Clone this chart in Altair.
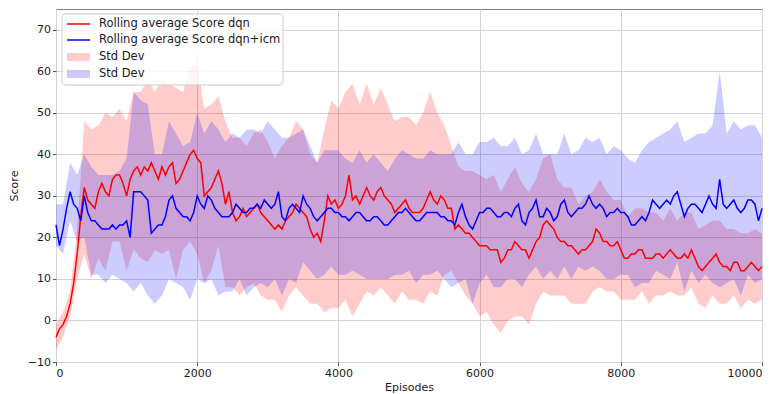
import altair as alt
import pandas as pd

# Rolling-average lines, every 50 episodes
line_episodes = list(range(0, 10001, 50))

mean_dqn = [
    -4, -2, -1, 1, 4, 9, 16, 25, 32, 29,
    28, 27, 31, 33, 31, 30, 34, 35, 35, 33,
    30, 34, 36, 37, 35, 37, 36, 38, 36, 34,
    37, 35, 37, 38, 33, 34, 36, 38, 40, 41,
    39, 38, 30, 31, 32, 34, 36, 33, 28, 31,
    26, 24, 25, 27, 25, 26, 27, 28, 26, 25,
    24, 23, 22, 23, 22, 24, 25, 26, 28, 27,
    26, 25, 22, 20, 21, 19, 24, 30, 28, 29,
    27, 28, 30, 35, 29, 30, 28, 30, 32, 30,
    29, 31, 32, 30, 29, 28, 26, 27, 28, 29,
    27, 26, 26, 26, 27, 29, 31, 29, 28, 30,
    29, 27, 27, 22, 23, 22, 21, 21, 20, 19,
    18, 18, 18, 17, 17, 17, 14, 15, 17, 17,
    19, 18, 17, 17, 15, 17, 19, 20, 23, 24,
    23, 22, 20, 19, 19, 18, 18, 17, 16, 17,
    17, 18, 19, 22, 21, 19, 19, 18, 18, 19,
    17, 15, 15, 16, 16, 17, 17, 15, 15, 15,
    16, 16, 15, 16, 17, 16, 15, 15, 16, 15,
    17, 15, 13, 12, 13, 14, 15, 16, 14, 13,
    13, 12, 14, 14, 12, 12, 13, 14, 13, 12,
    13]

mean_icm = [
    23, 18, 22, 27, 31, 28, 27, 24, 30, 26,
    24, 24, 23, 22, 22, 22, 23, 22, 23, 23,
    24, 20, 31, 31, 31, 30, 29, 21, 22, 23,
    23, 25, 29, 30, 27, 26, 25, 25, 24, 26,
    30, 28, 27, 30, 29, 27, 26, 25, 25, 25,
    26, 28, 27, 26, 26, 27, 27, 28, 27, 29,
    28, 27, 28, 31, 25, 24, 27, 28, 27, 26,
    30, 28, 27, 25, 24, 25, 26, 27, 27, 26,
    26, 25, 25, 24, 25, 26, 26, 25, 24, 24,
    25, 25, 24, 23, 23, 24, 25, 26, 26, 27,
    26, 25, 24, 24, 25, 26, 26, 26, 26, 25,
    25, 24, 24, 23, 26, 28, 25, 23, 22, 24,
    26, 26, 27, 27, 26, 25, 25, 26, 26, 25,
    27, 28, 24, 23, 26, 27, 29, 25, 25, 27,
    26, 24, 25, 28, 29, 26, 25, 26, 27, 27,
    28, 30, 28, 27, 28, 27, 25, 26, 26, 27,
    26, 26, 25, 23, 23, 24, 25, 24, 26, 29,
    28, 27, 28, 29, 28, 30, 31, 28, 25, 27,
    28, 28, 27, 26, 28, 30, 28, 27, 34, 28,
    27, 28, 29, 27, 26, 27, 29, 29, 28, 24,
    27]

# Std-dev bands, every 100 episodes
band_episodes = list(range(0, 10001, 100))

std_dqn = [
    3, 3, 3, 6, 16, 18, 16, 19, 15, 16,
    18, 19, 20, 22, 19, 21, 20, 23, 19, 21,
    23, 21, 20, 18, 20, 18, 19, 17, 18, 20,
    19, 17, 20, 19, 20, 20, 18, 17, 22, 25,
    24, 25, 28, 24, 25, 23, 24, 23, 22, 21,
    22, 21, 23, 24, 22, 18, 15, 14, 15, 16,
    17, 16, 18, 17, 17, 18, 16, 16, 15, 16,
    17, 14, 13, 14, 12, 13, 12, 13, 12, 11,
    12, 10, 11, 10, 11, 10, 9, 10, 9, 10,
    9, 9, 10, 9, 10, 9, 8, 9, 8, 9,
    8]

std_icm = [
    5, 6, 7, 8, 10, 13, 12, 13, 12, 13,
    15, 24, 22, 23, 18, 17, 19, 18, 17, 19,
    20, 18, 19, 20, 18, 19, 17, 20, 19, 18,
    20, 18, 19, 17, 18, 16, 15, 14, 15, 14,
    15, 14, 13, 15, 14, 15, 14, 13, 14, 15,
    14, 15, 14, 15, 14, 15, 16, 17, 15, 18,
    17, 16, 18, 17, 16, 17, 16, 15, 16, 15,
    14, 15, 16, 15, 14, 16, 15, 16, 15, 16,
    15, 14, 15, 16, 17, 16, 17, 18, 17, 18,
    16, 18, 17, 19, 26, 18, 19, 20, 18, 19,
    17]

x_ticks = [0, 2000, 4000, 6000, 8000, 10000]
y_ticks = [-10, 0, 10, 20, 30, 40, 50, 60, 70]

legend_labels = ["Rolling average Score dqn", "Rolling average Score dqn+icm",
                 "Std Dev", "Std Dev"]

lines_df = pd.DataFrame({"episode": line_episodes,
                         "mean_dqn": mean_dqn, "mean_icm": mean_icm})

band_df = pd.DataFrame({"episode": band_episodes,
                        "m_dqn": mean_dqn[::2], "s_dqn": std_dqn,
                        "m_icm": mean_icm[::2], "s_icm": std_icm})
band_df["lo_dqn"] = band_df["m_dqn"] - band_df["s_dqn"]
band_df["hi_dqn"] = band_df["m_dqn"] + band_df["s_dqn"]
band_df["lo_icm"] = band_df["m_icm"] - band_df["s_icm"]
band_df["hi_icm"] = band_df["m_icm"] + band_df["s_icm"]

FONT = "DejaVu Sans"

xenc = alt.X("episode:Q",
             scale=alt.Scale(domain=[0, 10000], nice=False, zero=False),
             axis=alt.Axis(title="Episodes", values=x_ticks, format="d",
                           labelExpr="datum.value"))
yscale = alt.Scale(domain=[-10, 75], nice=False, zero=False)
yaxis = alt.Axis(title="Score", values=y_ticks,
                 labelExpr="replace(datum.label, '-', '\u2212')")

band_dqn = alt.Chart(band_df).mark_area(color="red", opacity=0.2, strokeWidth=0).encode(
    x=xenc, y=alt.Y("lo_dqn:Q", scale=yscale, axis=yaxis), y2="hi_dqn:Q")
band_icm = alt.Chart(band_df).mark_area(color="blue", opacity=0.2, strokeWidth=0).encode(
    x=xenc, y=alt.Y("lo_icm:Q", scale=yscale, axis=yaxis), y2="hi_icm:Q")
line_dqn = alt.Chart(lines_df).mark_line(color="red", strokeWidth=1.5).encode(
    x=xenc, y=alt.Y("mean_dqn:Q", scale=yscale, axis=yaxis))
line_icm = alt.Chart(lines_df).mark_line(color="blue", strokeWidth=1.5).encode(
    x=xenc, y=alt.Y("mean_icm:Q", scale=yscale, axis=yaxis))

one = pd.DataFrame({"k": [0]})
frame = alt.Chart(one).mark_rect(fill="white", fillOpacity=0.8, stroke="#cccccc",
                                 strokeWidth=1, cornerRadius=3).encode(
    x=alt.value(6), x2=alt.value(227), y=alt.value(5), y2=alt.value(76))

leg_layers = [frame]
leg_layers.append(alt.Chart(one).mark_rule(color="red", strokeWidth=1.5).encode(
    x=alt.value(11), x2=alt.value(34), y=alt.value(15)))
leg_layers.append(alt.Chart(one).mark_rule(color="blue", strokeWidth=1.5).encode(
    x=alt.value(11), x2=alt.value(34), y=alt.value(31)))
leg_layers.append(alt.Chart(one).mark_rect(fill="red", fillOpacity=0.2).encode(
    x=alt.value(11), x2=alt.value(34), y=alt.value(44), y2=alt.value(52)))
leg_layers.append(alt.Chart(one).mark_rect(fill="blue", fillOpacity=0.2).encode(
    x=alt.value(11), x2=alt.value(34), y=alt.value(61), y2=alt.value(69)))
for lab, yy in zip(legend_labels, [15, 31, 48, 65]):
    leg_layers.append(
        alt.Chart(pd.DataFrame({"label": [lab]})).mark_text(
            align="left", baseline="middle", font=FONT, fontSize=11.5,
            color="#1a1a1a").encode(
            x=alt.value(43), y=alt.value(yy), text="label:N"))

chart = alt.layer(band_dqn, band_icm, line_dqn, line_icm, *leg_layers).properties(
    width=706, height=353,
    autosize=alt.AutoSizeParams(type="none"),
    padding={"left": 56, "top": 9, "right": 16, "bottom": 32},
    background="white",
).configure_view(
    stroke="#7f7f7f", strokeWidth=1
).configure_axis(
    labelFont=FONT, titleFont=FONT, labelFontSize=11, titleFontSize=11,
    titleFontWeight="normal", labelColor="#1a1a1a", titleColor="#1a1a1a",
    grid=True, gridColor="#d4d4d4", gridWidth=1,
    domain=False, tickColor="#555555", tickSize=3.5, labelPadding=2,
).configure_axisY(
    titlePadding=8
).configure_axisX(
    titlePadding=3
)

chart.save("out.html", embed_options={"renderer": "svg", "actions": False})
